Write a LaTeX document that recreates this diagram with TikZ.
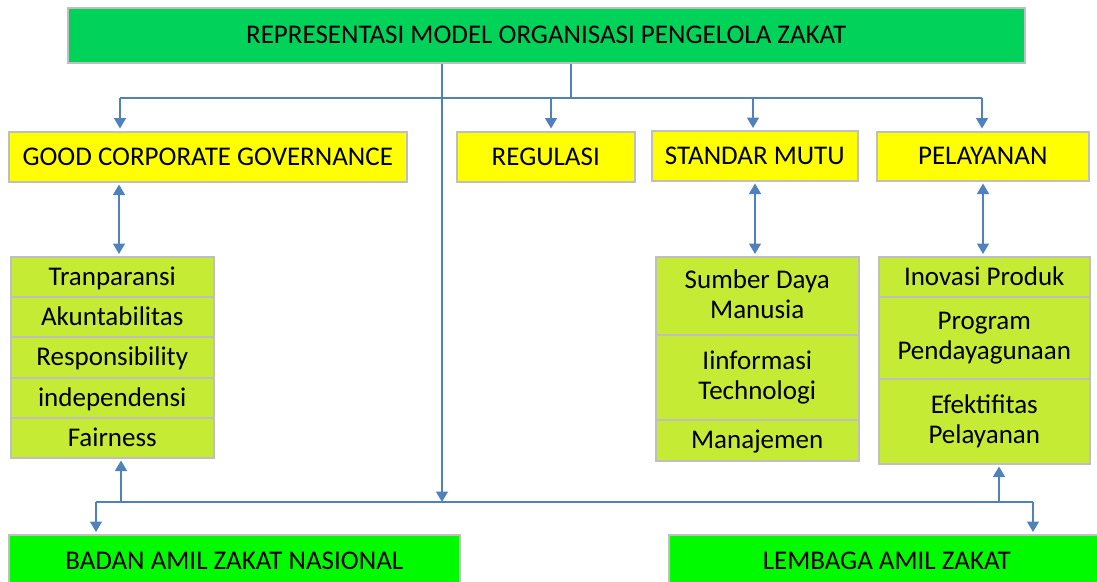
\documentclass[tikz,border=0pt]{standalone}
\usepackage{fontspec}
\setmainfont{Carlito}
\usetikzlibrary{arrows.meta}
\definecolor{titlegreen}{RGB}{0,210,90}
\definecolor{botgreen}{RGB}{0,250,0}
\definecolor{ybox}{RGB}{255,255,0}
\definecolor{lgreen}{RGB}{197,235,52}
\definecolor{boxgrey}{RGB}{191,191,191}
\definecolor{lineblue}{RGB}{79,129,189}
\begin{document}
\begin{tikzpicture}[x=1pt,y=-1pt,
  box/.style={draw=boxgrey, line width=1.5pt, anchor=north west, inner sep=0pt,
    font=\fontsize{27}{30}\selectfont, text height=17pt, text depth=0pt},
  mbox/.style={draw=boxgrey, line width=1.5pt, anchor=north west, inner sep=0pt,
    font=\fontsize{27}{30}\selectfont, align=center, fill=lgreen},
  yel/.style={box, fill=ybox},
  lst/.style={box, fill=lgreen},
  conn/.style={draw=lineblue, line width=1.5pt},
  arr/.style={conn, -{Triangle[width=12pt,length=10.5pt]}},
  darr/.style={conn, {Triangle[width=12pt,length=10.5pt]}-{Triangle[width=12pt,length=10.5pt]}}]
\useasboundingbox (0,0) rectangle (1097,581);

% boxes
\node[box, fill=titlegreen, minimum width=957, minimum height=55] (title) at (67,7) {REPRESENTASI MODEL ORGANISASI PENGELOLA ZAKAT};
\node[yel, minimum width=398, minimum height=50] (gcg) at (8,131) {GOOD CORPORATE GOVERNANCE};
\node[yel, minimum width=178, minimum height=50] (reg) at (456,131) {REGULASI};
\node[yel, minimum width=206, minimum height=50] (std) at (651,130) {STANDAR MUTU};
\node[yel, minimum width=212, minimum height=49] (pel) at (876,131) {PELAYANAN};

\node[lst, minimum width=203, minimum height=40] (tran) at (10,256) {Tranparansi};
\node[lst, minimum width=203, minimum height=40] (akun) at (10,296) {Akuntabilitas};
\node[lst, minimum width=203, minimum height=41] (resp) at (10,336) {Responsibility};
\node[lst, minimum width=203, minimum height=40] (inde) at (10,377) {independensi};
\node[lst, minimum width=203, minimum height=40] (fair) at (10,417) {Fairness};

\node[mbox, minimum width=203, minimum height=78, text depth=4pt] (sdm) at (655,256) {Sumber Daya\\Manusia};
\node[mbox, minimum width=203, minimum height=85, text depth=4pt] (info) at (655,334) {Iinformasi\\Technologi};
\node[lst, minimum width=203, minimum height=41] (mana) at (655,419) {Manajemen};

\node[lst, minimum width=211, minimum height=40] (inov) at (878,256) {Inovasi Produk};
\node[mbox, minimum width=211, minimum height=82, text depth=4pt] (prog) at (878,296) {Program\\Pendayagunaan};
\node[mbox, minimum width=211, minimum height=85, text depth=4pt] (efek) at (878,378) {Efektifitas\\Pelayanan};

\node[box, fill=botgreen, minimum width=451, minimum height=52] (bazn) at (8,534) {BADAN AMIL ZAKAT NASIONAL};
\node[box, fill=botgreen, minimum width=436, minimum height=52] (laz) at (668,534) {LEMBAGA AMIL ZAKAT};

% top bus
\coordinate (j1) at (571,98);
\coordinate (d1) at (120,98);
\coordinate (d2) at (551,98);
\coordinate (d3) at (753,98);
\coordinate (d4) at (982,98);
\draw[conn] (title.south -| j1) -- (j1);
\draw[conn] (d1) -- (d4);
\draw[arr, shorten >=2.5pt] (d1) -- (gcg.north -| d1);
\draw[arr, shorten >=2.5pt] (d2) -- (reg.north -| d2);
\draw[arr, shorten >=2pt] (d3) -- (std.north -| d3);
\draw[arr, shorten >=2.5pt] (d4) -- (pel.north -| d4);

% double arrows
\coordinate (xg) at (119,0);
\coordinate (xs) at (755,0);
\coordinate (xp) at (983,0);
\draw[darr, shorten <=2pt, shorten >=2pt] (gcg.south -| xg) -- (tran.north -| xg);
\draw[darr, shorten <=2pt, shorten >=2pt] (std.south -| xs) -- (sdm.north -| xs);
\draw[darr, shorten <=2pt, shorten >=2pt] (pel.south -| xp) -- (inov.north -| xp);

% bottom bus
\coordinate (v) at (442,502);
\coordinate (bL) at (96,502);
\coordinate (bR) at (1033,502);
\coordinate (u1) at (121,502);
\coordinate (u2) at (999,502);
\draw[conn] (bL) -- (bR);
\draw[arr] (title.south -| v) -- (v);
\draw[arr, shorten >=2pt] (bL) -- (bazn.north -| bL);
\draw[arr, shorten >=2pt] (bR) -- (laz.north -| bR);
\draw[arr, shorten >=2pt] (u1) -- (fair.south -| u1);
\draw[arr, shorten >=2pt] (u2) -- (efek.south -| u2);
\end{tikzpicture}
\end{document}
